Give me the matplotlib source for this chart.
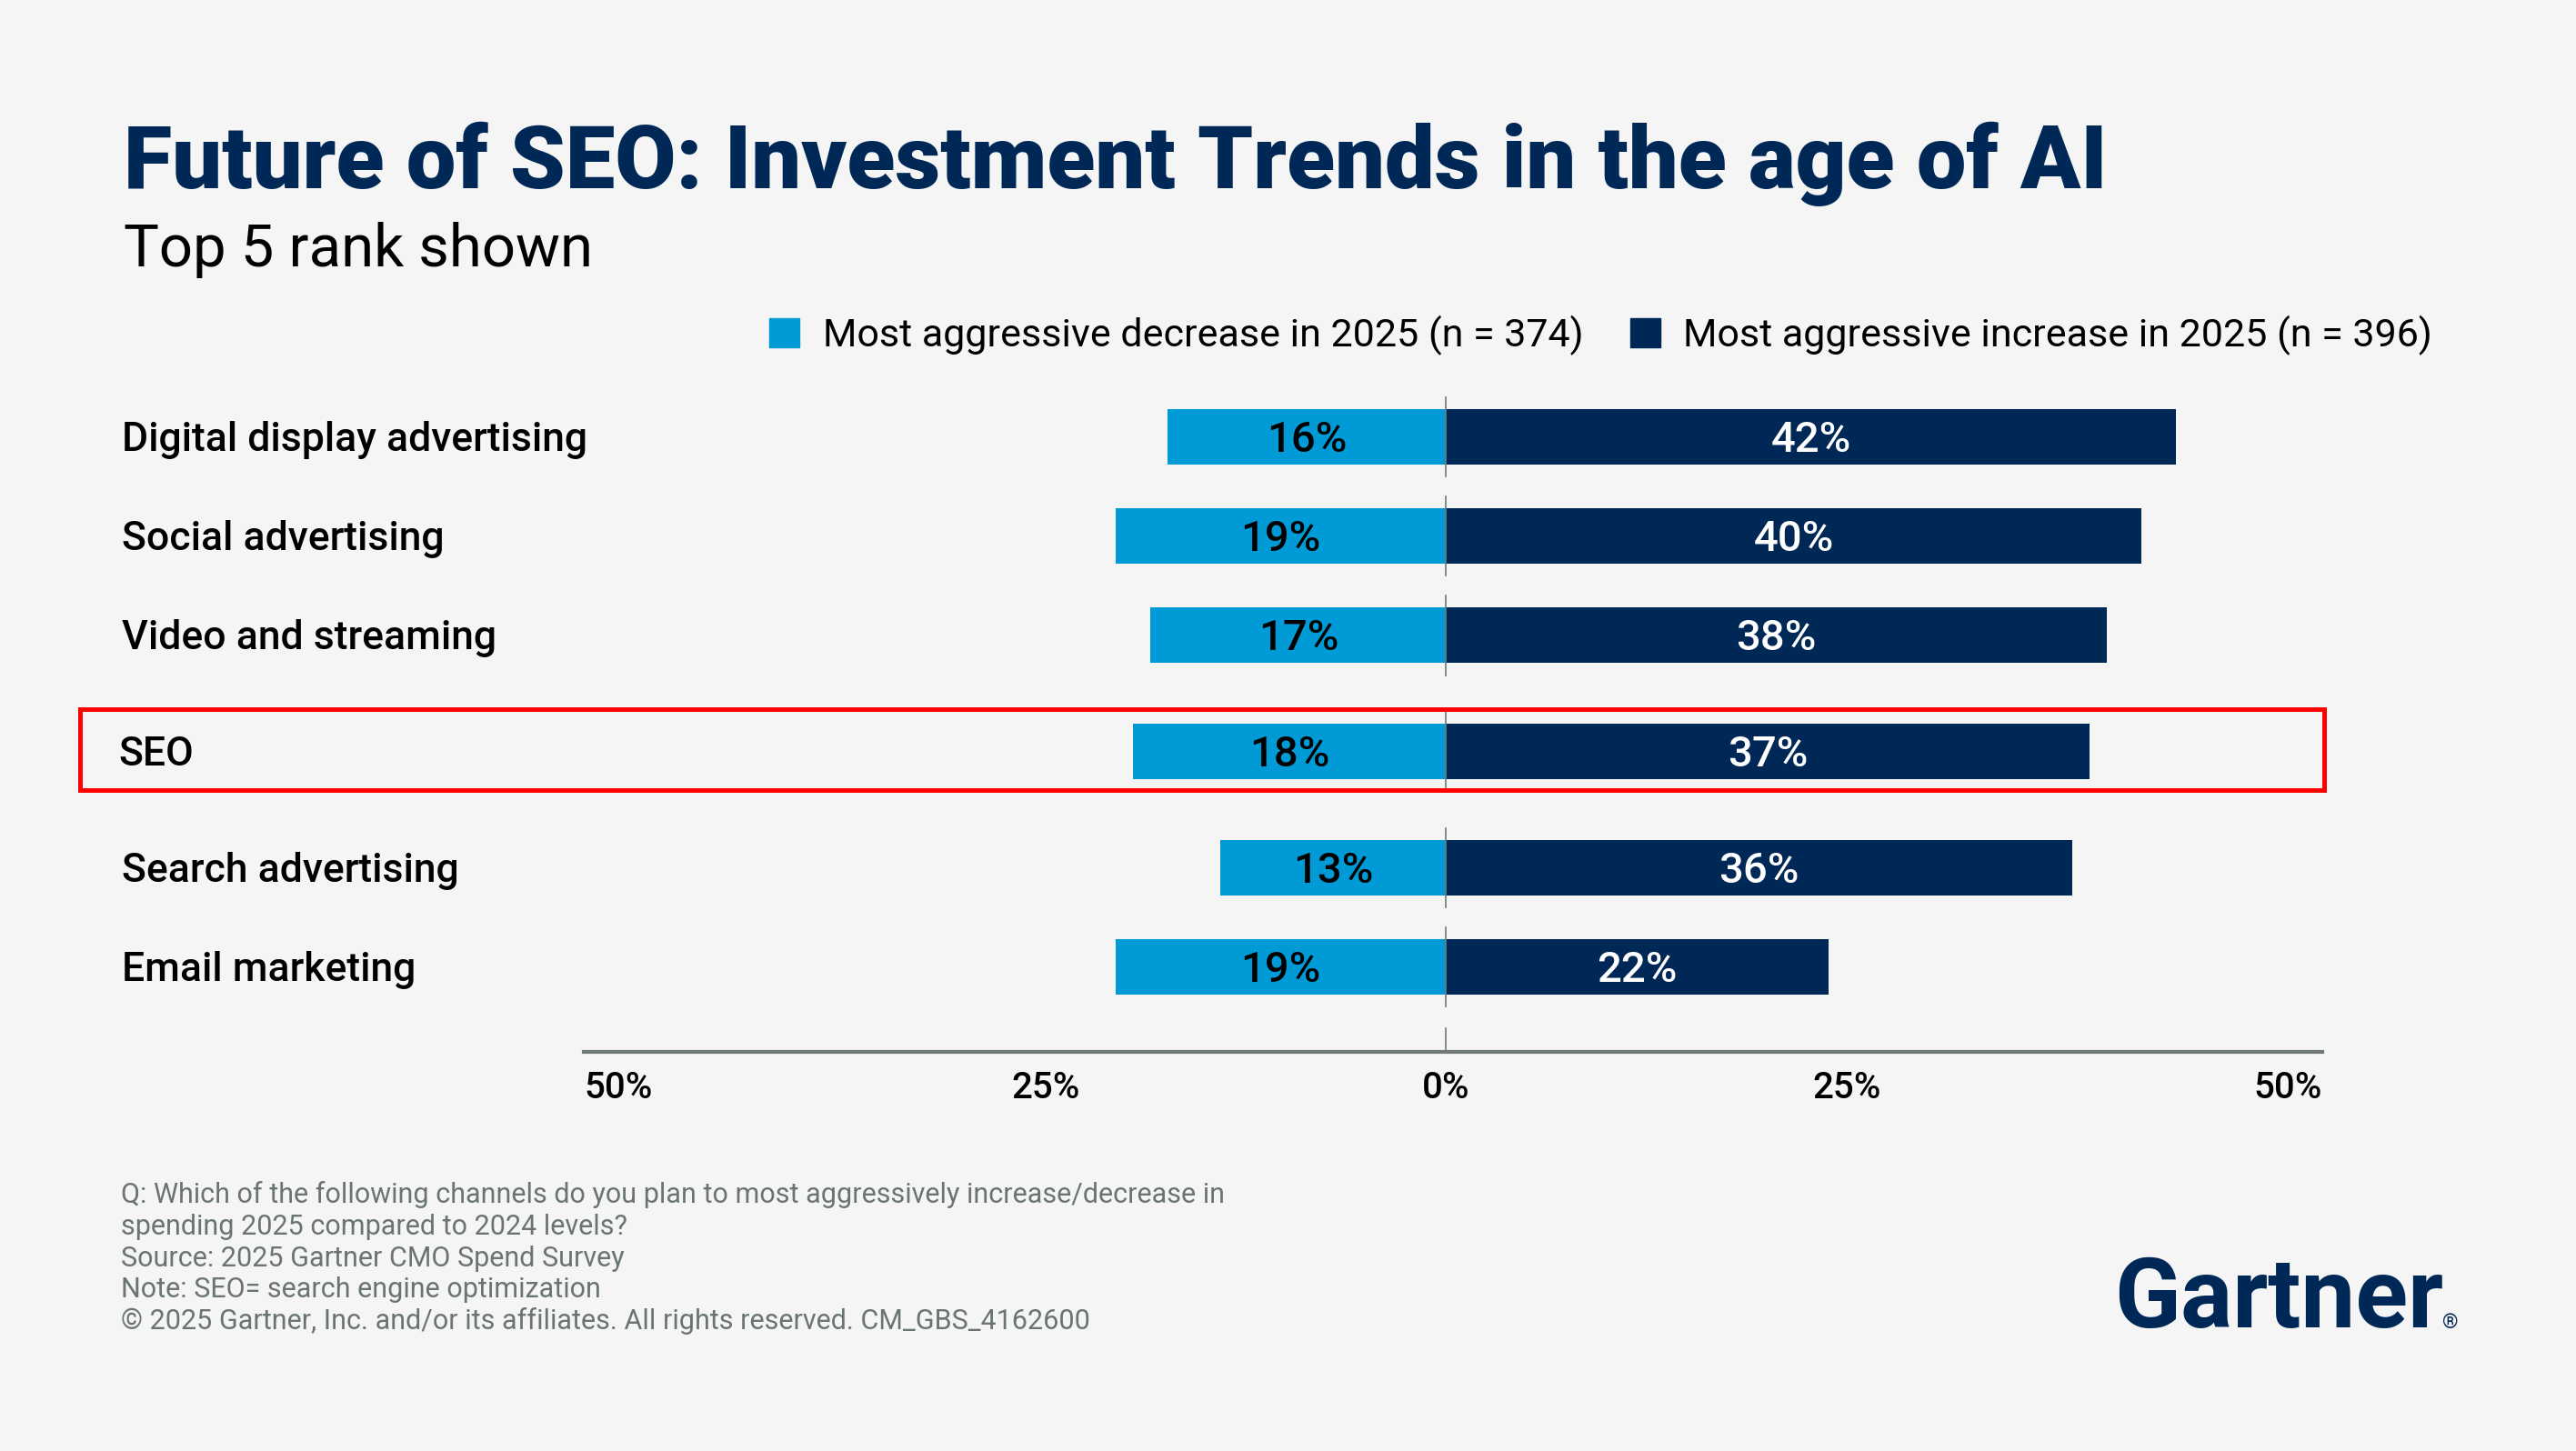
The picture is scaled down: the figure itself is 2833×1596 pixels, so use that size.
import matplotlib.pyplot as plt
from matplotlib.patches import Rectangle, Patch
from matplotlib import transforms

# chart data
channels = ["Digital display advertising", "Social advertising", "Video and streaming",
            "SEO", "Search advertising", "Email marketing"]
decrease = [16, 19, 17, 18, 13, 19]
increase = [42, 40, 38, 37, 36, 22]
highlight = "SEO"

tick_labels = ["50%", "25%", "0%", "25%", "50%"]

legend_labels = ["Most aggressive decrease in 2025 (n = 374)",
                 "Most aggressive increase in 2025 (n = 396)"]

title = "Future of SEO: Investment Trends in the age of AI"
subtitle = "Top 5 rank shown"
footer = [
    "Q: Which of the following channels do you plan to most aggressively increase/decrease in",
    "spending 2025 compared to 2024 levels?",
    "Source: 2025 Gartner CMO Spend Survey",
    "Note: SEO= search engine optimization",
    "\u00a9 2025 Gartner, Inc. and/or its affiliates. All rights reserved. CM_GBS_4162600",
]

# colours
bg = "#f5f5f5"
light_blue = "#009bd7"
navy = "#002856"
grey = "#6f7979"
footer_grey = "#6b7474"

plt.rcParams['font.family'] = ['Roboto', 'DejaVu Sans']

W, H = 2833, 1596
fig = plt.figure(figsize=(W / 100, H / 100), dpi=100, facecolor=bg)

# axes placed in pixel terms of the reference
ax = fig.add_axes([642 / W, 1 - 1157 / H, (2554 - 642) / W, (1157 - 420) / H])
ax.set_facecolor(bg)

# row positions: extra gap above and below the highlighted row
ypos = []
offset = 0
for i, c in enumerate(channels):
    if c == highlight:
        offset += 0.17
    ypos.append(i + offset)
    if c == highlight:
        offset += 0.17

bar_h = 0.56
ax.barh(ypos, [-d for d in decrease], height=bar_h, color=light_blue, label=legend_labels[0])
ax.barh(ypos, increase, height=bar_h, color=navy, label=legend_labels[1])

for y, d, inc in zip(ypos, decrease, increase):
    ax.text(-d / 2, y + 0.15, f"{d}%", ha='center', va='baseline',
            fontsize=34, fontweight='medium', color='black')
    ax.text(inc / 2, y + 0.15, f"{inc}%", ha='center', va='baseline',
            fontsize=34, fontweight='medium', color='white')
    # broken zero line
    ax.plot([0, 0], [y - 0.4, y + 0.4], color=grey, lw=1.2, zorder=3)

ax.plot([0, 0], [5.96, 6.2], color=grey, lw=1.2, zorder=3, clip_on=False)

# zero sits slightly left of the middle of the axis line
lo, hi = -49.6, 50.4
ax.set_xlim(lo, hi)
ax.set_ylim(6.195, -0.554)

for s in ['top', 'left', 'right']:
    ax.spines[s].set_visible(False)
ax.spines['bottom'].set_color(grey)
ax.spines['bottom'].set_linewidth(3)
ax.set_yticks([])
ax.set_xticks([lo, -25, 0, 25, hi])
ax.set_xticklabels(tick_labels, fontsize=29, fontweight='medium')
ax.tick_params(axis='x', length=0, pad=15)
for lab, ha in zip(ax.get_xticklabels(), ['left', 'left', 'center', 'right', 'right']):
    lab.set_horizontalalignment(ha)

# category labels
trans = transforms.blended_transform_factory(fig.transFigure, ax.transData)
for y, c in zip(ypos, channels):
    x = 130 / W if c == highlight else 134.5 / W
    ax.text(x, y + 0.14, c, transform=trans, ha='left', va='baseline',
            fontsize=32, fontweight='medium', color='black')

# highlight box
fig.add_artist(Rectangle((87.5 / W, 1 - 868.5 / H), (2556 - 87.5) / W, (868.5 - 779.5) / H,
                         transform=fig.transFigure, fill=False, ec='#ff0000', lw=3.6))

# title block
fig.text(136 / W, 1 - 207 / H, title, fontsize=70, fontweight='black', color=navy,
         ha='left', va='baseline')
fig.text(136 / W, 1 - 293 / H, subtitle, fontsize=47, color='black',
         ha='left', va='baseline')

# legend
handles = [Patch(color=light_blue), Patch(color=navy)]
fig.legend(handles, legend_labels, loc='center left', bbox_to_anchor=(846 / W, 1 - 368.5 / H),
           ncol=2, frameon=False, fontsize=31, handlelength=0.76, handleheight=0.76,
           handletextpad=0.6, columnspacing=1.2, borderpad=0, borderaxespad=0)

# footer
for i, line in enumerate(footer):
    fig.text(133 / W, 1 - (1323 + i * 34.8) / H, line, fontsize=22, color=footer_grey,
             ha='left', va='baseline')

# logo
fig.text(2325 / W, 1 - 1460 / H, "Gartner", fontsize=77, fontweight='bold', color=navy,
         ha='left', va='baseline')
fig.text(2686 / W, 1 - 1461 / H, "\u00ae", fontsize=16, color=navy, ha='left', va='baseline')

plt.savefig("out.png", dpi=100, facecolor=bg)
